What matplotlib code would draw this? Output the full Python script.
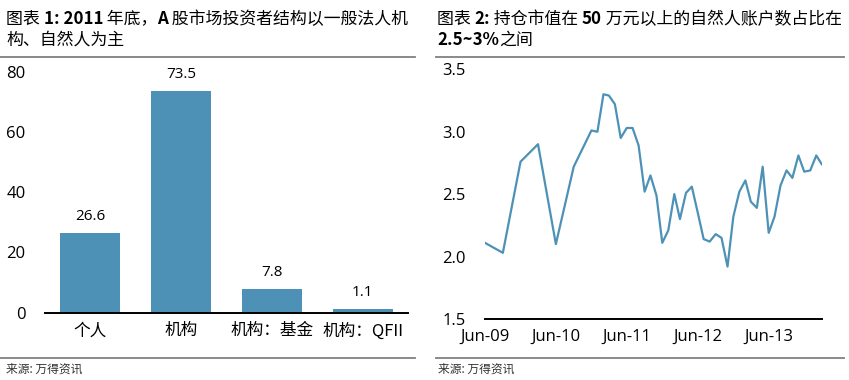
import matplotlib
matplotlib.use("Agg")
import matplotlib.pyplot as plt
import matplotlib.dates as mdates
import pandas as pd

plt.rcParams['font.family'] = ['Noto Sans CJK SC', 'DejaVu Sans']
num_font = ['Open Sans', 'Noto Sans CJK SC']

# chart 1: investor structure at end of 2011
categories = ['个人', '机构', '机构：基金', '机构：QFII']
shares = [26.6, 73.5, 7.8, 1.1]

# chart 2: share of natural-person accounts holding > 500k
quarter_dates = ['2009-06-01', '2009-09-01', '2009-12-01', '2010-03-01',
                 '2010-06-01', '2010-09-01', '2010-12-01']
month_dates = pd.date_range('2011-01-01', '2014-03-01', freq='MS')
dates = pd.to_datetime(quarter_dates).append(month_dates)
ratio = [2.11, 2.03, 2.76, 2.90, 2.10, 2.72, 3.01,
         3.00, 3.30, 3.29, 3.22, 2.95, 3.03, 3.03, 2.89, 2.52, 2.65, 2.49,
         2.11, 2.21, 2.50, 2.30, 2.51, 2.56, 2.35, 2.14, 2.12, 2.18, 2.15,
         1.92, 2.32, 2.52, 2.61, 2.44, 2.39, 2.72, 2.19, 2.32, 2.57, 2.69,
         2.63, 2.81, 2.68, 2.69, 2.81, 2.74]

blue = '#4d92b6'
W, H = 849, 380
fig = plt.figure(figsize=(W / 100, H / 100), dpi=100)


def rich_title(x, y, parts, size=12.2):
    renderer = fig.canvas.get_renderer()
    for s, bold in parts:
        t = fig.text(x, y, s, fontsize=size,
                     fontweight='bold' if bold else 'normal', va='baseline')
        bb = t.get_window_extent(renderer)
        x += bb.width / W


def rule(x0, x1, y):
    fig.add_artist(plt.Line2D([x0 / W, x1 / W], [1 - y / H, 1 - y / H],
                              color='#808080', lw=1.3))


# titles
rich_title(6 / W, 1 - 24 / H, [('图表 ', False), ('1: 2011', True),
                                (' 年底，', False), ('A', True),
                                (' 股市场投资者结构以一般法人机', False)])
rich_title(6 / W, 1 - 45 / H, [('构、自然人为主', False)])
rich_title(437 / W, 1 - 24 / H, [('图表 ', False), ('2:', True),
                                  (' 持仓市值在 ', False), ('50', True),
                                  (' 万元以上的自然人账户数占比在', False)])
rich_title(437 / W, 1 - 45 / H, [('2.5~3%', True), ('之间', False)])

rule(0, 415, 56.5)
rule(436, 844, 56.5)
rule(0, 415, 358)
rule(436, 844, 358)

fig.text(6 / W, 1 - 373 / H, '来源: 万得资讯', fontsize=8.5, color='#333333')
fig.text(438 / W, 1 - 373 / H, '来源: 万得资讯', fontsize=8.5, color='#333333')

# left: bars
ax1 = fig.add_axes([45 / W, 67.3 / H, 363 / W, 241 / H])
x = range(len(categories))
bars = ax1.bar(x, shares, width=0.66, color=blue)
for b, v in zip(bars, shares):
    ax1.text(b.get_x() + b.get_width() / 2, v + 3, f'{v:.1f}',
             ha='center', va='bottom', fontsize=11, family=num_font)
ax1.set_xlim(-0.5, 3.5)
ax1.set_ylim(0, 80)
ax1.set_yticks([0, 20, 40, 60, 80])
ax1.set_xticks(list(x))
ax1.set_xticklabels(categories, fontsize=12)

# right: line
ax2 = fig.add_axes([485 / W, 61 / H, 336.7 / W, 249.7 / H])
ax2.plot(dates, ratio, color=blue, lw=1.6)
ax2.set_xlim(dates[0], dates[-1])
ax2.set_ylim(1.5, 3.5)
ax2.set_yticks([1.5, 2.0, 2.5, 3.0, 3.5])
ax2.yaxis.set_major_formatter(plt.FormatStrFormatter('%.1f'))
ax2.xaxis.set_major_locator(mdates.MonthLocator(bymonth=6))
ax2.xaxis.set_major_formatter(mdates.DateFormatter('%b-%y'))

for ax in (ax1, ax2):
    for side in ('top', 'right', 'left'):
        ax.spines[side].set_visible(False)
    ax.spines['bottom'].set_linewidth(1.4)
    ax.tick_params(length=0, labelsize=12)
    ax.tick_params(axis='y', pad=14)
    ax.tick_params(axis='x', pad=7)
    for lab in ax.get_yticklabels():
        lab.set_family(num_font)
for lab in ax2.get_xticklabels():
    lab.set_family(num_font)

fig.savefig('out.png', dpi=100)
